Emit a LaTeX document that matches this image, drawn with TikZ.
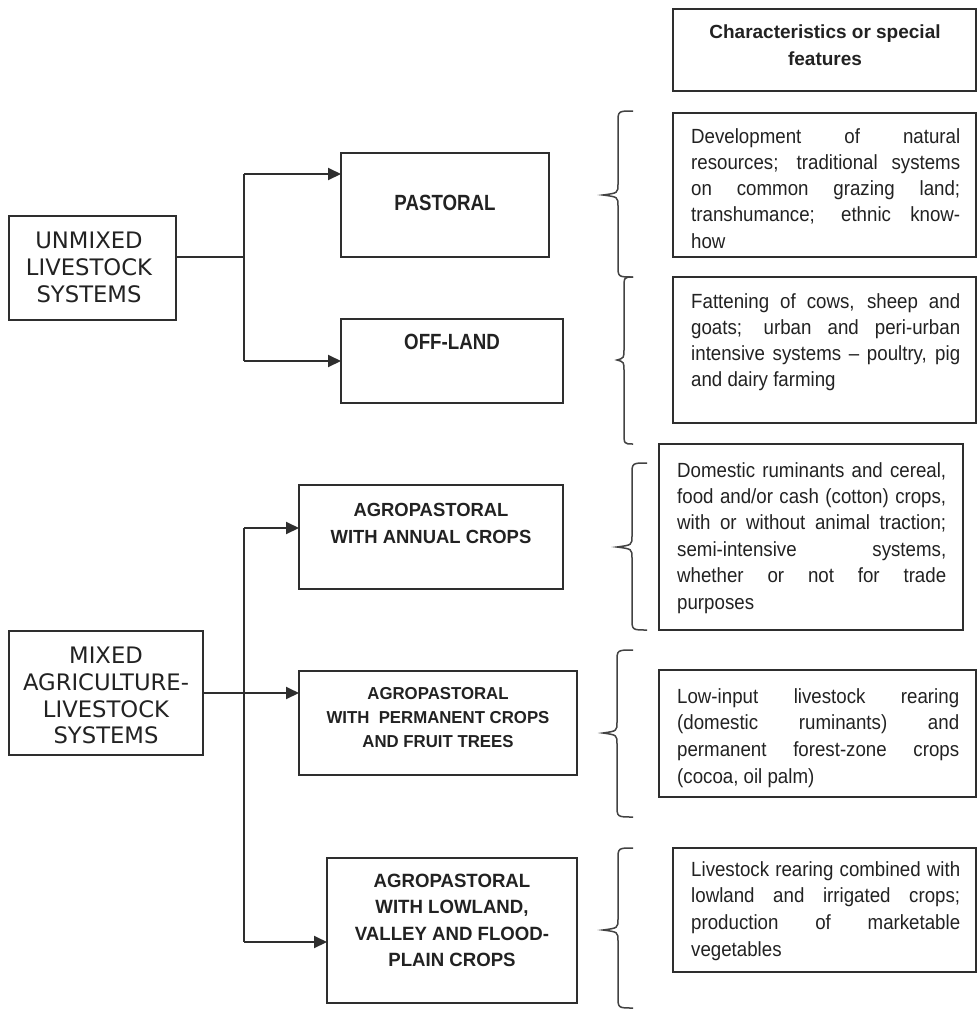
\documentclass[tikz,border=0pt]{standalone}
\usepackage{fontspec}
\setmainfont{Liberation Sans}
\newfontfamily\bodyfont[FakeStretch=0.912]{Liberation Sans}
\newfontfamily\labfont[FakeStretch=0.97]{Liberation Sans}
\newfontfamily\bigfont[FakeStretch=0.85]{Liberation Sans}
\newfontfamily\verdfont{DejaVu Sans}
\usetikzlibrary{arrows.meta}
\definecolor{ink}{HTML}{222222}
\definecolor{linec}{HTML}{2E2E2E}
\newcommand\jline[1]{\makebox[\linewidth][s]{#1}\\}
\newcommand\curlybr[6]{%
  \draw[bracel] (#1,#4) .. controls (#2,#4) .. (#2,#4+12) -- (#2,#5-11)
    .. controls (#2,#5-2) .. (#3,#5) .. controls (#2,#5+2) .. (#2,#5+11)
    -- (#2,#6-12) .. controls (#2,#6) .. (#1,#6);}
\tikzset{
  boxn/.style={draw=linec, line width=2pt, rectangle, outer sep=0pt, inner sep=0pt,
    anchor=north west},
  bodytext/.style={anchor=north west, inner sep=0pt, text=ink,
    font=\bodyfont\fontsize{20.5}{#1}\selectfont},
  sidetext/.style={anchor=north, inner sep=0pt, align=center, text=ink,
    font=\verdfont\fontsize{22.7}{26.7}\selectfont},
  agtext/.style 2 args={anchor=north, inner sep=0pt, align=center, text=ink,
    font=\labfont\bfseries\fontsize{#1}{#2}\selectfont},
  bigtext/.style={anchor=north, inner sep=0pt, align=center, text=ink,
    font=\bigfont\bfseries\fontsize{22}{26}\selectfont},
  hdrtext/.style={anchor=north, inner sep=0pt, align=center, text=ink,
    font=\bfseries\fontsize{19}{27}\selectfont},
  conn/.style={draw=linec, line width=2pt},
  arr/.style={draw=linec, line width=2pt, -{Triangle[length=13pt,width=12pt]}},
  bracel/.style={draw=linec!90, line width=1.5pt},
}
\begin{document}
\begin{tikzpicture}[x=1pt,y=-1pt]
\useasboundingbox (0,0) rectangle (977,1010);
\fill[white] (0,0) rectangle (977,1010);

% ---------- left boxes ----------
\node[boxn, minimum width=167pt, minimum height=104pt] (unmixed) at (9,216) {};
\node[sidetext] (unmixedT) at (89,232) {UNMIXED\\LIVESTOCK\\SYSTEMS};
\node[boxn, minimum width=194pt, minimum height=124pt] (mixed) at (9,631) {};
\node[sidetext] (mixedT) at (106,647) {MIXED\\AGRICULTURE-\\LIVESTOCK\\SYSTEMS};

% ---------- middle boxes ----------
\node[boxn, minimum width=208pt, minimum height=104pt] (pastoral) at (341,153) {};
\node[bigtext] (pastoralT) at (445,195) {PASTORAL};
\node[boxn, minimum width=222pt, minimum height=84pt] (offland) at (341,319) {};
\node[bigtext] (offlandT) at (452,334) {OFF-LAND};

\node[boxn, minimum width=264pt, minimum height=104pt] (ag1) at (299,485) {};
\node[agtext={19}{27}] (ag1T) at (431,503) {AGROPASTORAL\\WITH ANNUAL CROPS};
\node[boxn, minimum width=278pt, minimum height=104pt] (ag2) at (299,671) {};
\node[agtext={17.3}{24}] (ag2T) at (438,687) {AGROPASTORAL\\WITH\ \ PERMANENT CROPS\\AND FRUIT TREES};
\node[boxn, minimum width=250pt, minimum height=145pt] (ag3) at (327,858) {};
\node[agtext={19.2}{26.3}] (ag3T) at (452,874) {AGROPASTORAL\\WITH LOWLAND,\\VALLEY AND FLOOD-\\PLAIN CROPS};

% ---------- right boxes ----------
\node[boxn, minimum width=303pt, minimum height=82pt] (hdr) at (673,9) {};
\node[hdrtext] (hdrT) at (825,25) {Characteristics or special\\features};

\node[boxn, minimum width=303pt, minimum height=144pt] (c1) at (673,113) {};
\node[bodytext=26.3] (c1T) at (691,128) {\parbox[t]{269pt}{%
  \jline{Development of natural}%
  \jline{resources; traditional systems}%
  \jline{on common grazing land;}%
  \jline{transhumance; ethnic know-}%
  how}};

\node[boxn, minimum width=303pt, minimum height=146pt] (c2) at (673,277) {};
\node[bodytext=26] (c2T) at (691,293) {\parbox[t]{269pt}{%
  \jline{Fattening of cows, sheep and}%
  \jline{goats; urban and peri-urban}%
  \jline{intensive systems – poultry, pig}%
  and dairy farming}};

\node[boxn, minimum width=304pt, minimum height=186pt] (c3) at (659,444) {};
\node[bodytext=26.4] (c3T) at (677,462) {\parbox[t]{269pt}{%
  \jline{Domestic ruminants and cereal,}%
  \jline{food and/or cash (cotton) crops,}%
  \jline{with or without animal traction;}%
  \jline{semi-intensive systems,}%
  \jline{whether or not for trade}%
  purposes}};

\node[boxn, minimum width=317pt, minimum height=127pt] (c4) at (659,670) {};
\node[bodytext=26.7] (c4T) at (677,688) {\parbox[t]{282pt}{%
  \jline{Low-input livestock rearing}%
  \jline{(domestic ruminants) and}%
  \jline{permanent forest-zone crops}%
  (cocoa, oil palm)}};

\node[boxn, minimum width=303pt, minimum height=124pt] (c5) at (673,848) {};
\node[bodytext=26.7] (c5T) at (691,861) {\parbox[t]{269pt}{%
  \jline{Livestock rearing combined with}%
  \jline{lowland and irrigated crops;}%
  \jline{production of marketable}%
  vegetables}};

% ---------- connectors ----------
\coordinate (j1) at (244,257);
\coordinate (j1a) at (244,174);
\coordinate (j1b) at (244,361);
\draw[conn] (unmixed.east |- j1) -- (j1);
\draw[conn] (j1a) -- (j1b);
\draw[arr] (j1a) -- (j1a -| pastoral.west);
\draw[arr] (j1b) -- (j1b -| offland.west);

\coordinate (j2a) at (244,528);
\coordinate (j2b) at (244,942);
\draw[conn] (j2a) -- (j2b);
\draw[arr] (mixed.east) -- (mixed.east -| ag2.west);
\draw[arr] (j2a) -- (j2a -| ag1.west);
\draw[arr] (j2b) -- (j2b -| ag3.west);

% ---------- braces ----------
\curlybr{633}{618}{603}{111}{195}{277}
\curlybr{633}{624}{617}{277}{360}{444}
\curlybr{647}{632}{617}{463}{547}{630}
\curlybr{633}{617}{603}{650}{733}{817}
\curlybr{633}{618}{603}{848}{930}{1008}
\end{tikzpicture}
\end{document}
